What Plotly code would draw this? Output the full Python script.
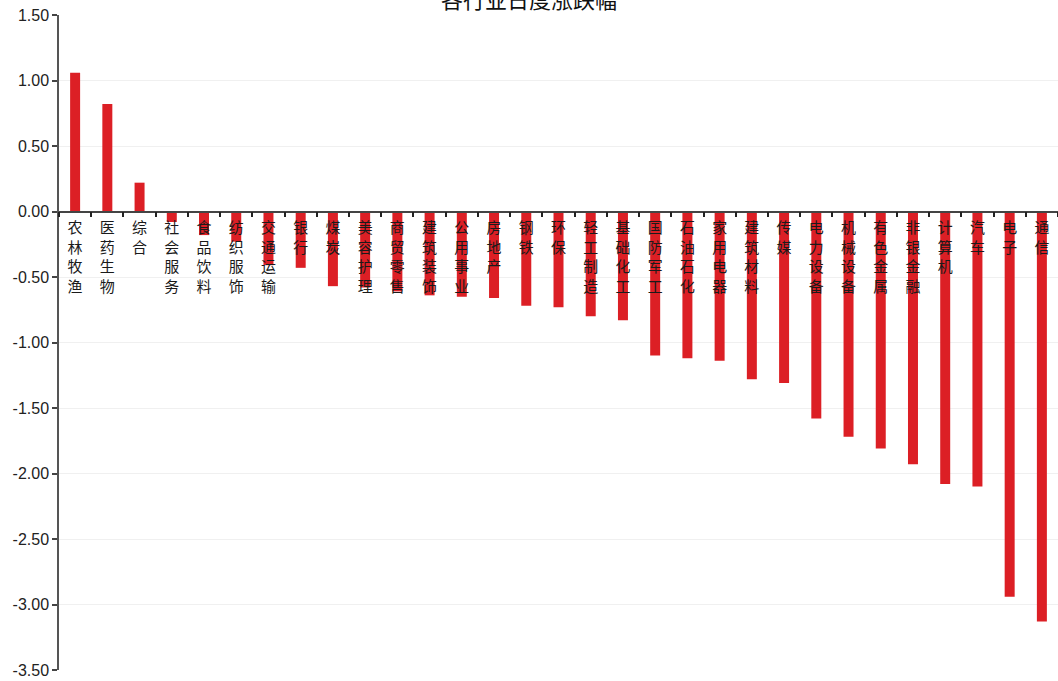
import plotly.graph_objects as go

# 行业名称与当日涨跌幅（%）
industries = [
    "农林牧渔", "医药生物", "综合", "社会服务", "食品饮料", "纺织服饰", "交通运输",
    "银行", "煤炭", "美容护理", "商贸零售", "建筑装饰", "公用事业", "房地产",
    "钢铁", "环保", "轻工制造", "基础化工", "国防军工", "石油石化", "家用电器",
    "建筑材料", "传媒", "电力设备", "机械设备", "有色金属", "非银金融", "计算机",
    "汽车", "电子", "通信",
]
changes = [
    1.06, 0.82, 0.22, -0.08, -0.18, -0.23, -0.41,
    -0.43, -0.57, -0.58, -0.61, -0.64, -0.65, -0.66,
    -0.72, -0.73, -0.80, -0.83, -1.10, -1.12, -1.14,
    -1.28, -1.31, -1.58, -1.72, -1.81, -1.93, -2.08,
    -2.10, -2.94, -3.13,
]
y_ticks = [1.5, 1.0, 0.5, 0.0, -0.5, -1.0, -1.5, -2.0, -2.5, -3.0, -3.5]
y_tick_text = ["1.50", "1.00", "0.50", "0.00", "-0.50", "-1.00", "-1.50",
               "-2.00", "-2.50", "-3.00", "-3.50"]
y_range = [-3.5, 1.5]

# 竖排标签：每个字单独一行
vertical_labels = ["<br>".join(name) for name in industries]

fig = go.Figure(
    go.Bar(
        x=industries,
        y=changes,
        width=0.31,
        marker=dict(color="#dc1f25", line=dict(width=0)),
        hoverinfo="x+y",
    )
)

# 横轴放在零线位置
zero_pos = (0 - y_range[0]) / (y_range[1] - y_range[0])

fig.update_layout(
    width=1058,
    height=681,
    margin=dict(l=59, r=0, t=15, b=11),
    paper_bgcolor="white",
    plot_bgcolor="white",
    showlegend=False,
    title=dict(
        text="各行业日度涨跌幅",
        x=0.5,
        xref="container",
        xanchor="center",
        y=1.0,
        yref="container",
        yanchor="middle",
        font=dict(family="Noto Sans CJK SC", size=22, color="#111"),
    ),
    xaxis=dict(
        type="category",
        tickmode="array",
        tickvals=industries,
        ticktext=vertical_labels,
        anchor="free",
        position=zero_pos,
        showline=True,
        linecolor="#444",
        linewidth=1.5,
        ticks="outside",
        tickson="boundaries",
        ticklen=5,
        tickwidth=1.5,
        tickcolor="#222",
        tickangle=0,
        ticklabelstandoff=3,
        showgrid=False,
        zeroline=False,
        tickfont=dict(family="Noto Sans CJK SC", size=15, color="#1a1a1a"),
        range=[-0.5, len(industries) - 0.5],
    ),
    yaxis=dict(
        range=y_range,
        tickmode="array",
        tickvals=y_ticks,
        ticktext=y_tick_text,
        showline=True,
        linecolor="#555",
        linewidth=1.5,
        ticks="outside",
        ticklen=5,
        tickwidth=1.5,
        tickcolor="#444",
        showgrid=True,
        gridcolor="#f0f0f0",
        gridwidth=1,
        zeroline=False,
        tickfont=dict(family="Liberation Sans", size=16, color="#222"),
    ),
)

fig.write_html("out.html")
